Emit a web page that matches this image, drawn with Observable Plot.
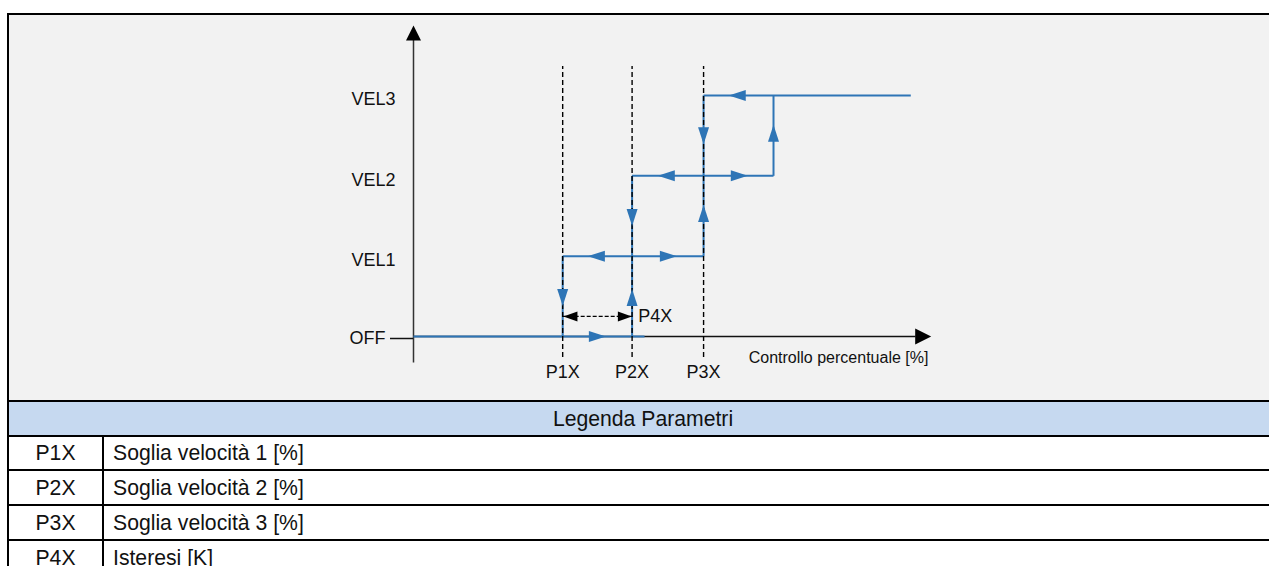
<!DOCTYPE html>
<html>
<head>
<meta charset="utf-8">
<script src="https://cdn.jsdelivr.net/npm/d3@7"></script>
<script src="https://cdn.jsdelivr.net/npm/@observablehq/plot@0.6"></script>
<style>
  html, body { margin: 0; padding: 0; background: #fff; width: 1269px; height: 566px; overflow: hidden;
    font-family: "Liberation Sans", Arial, sans-serif; color: #111; }
  #frame { position: absolute; left: 7px; top: 13px; width: 1290px; height: 390px; box-sizing: border-box;
    border-top: 2px solid #000; border-left: 2px solid #000; background: #f2f2f2; }
  #chart { position: absolute; left: 0; top: 0; }
  .row { position: absolute; left: 7px; width: 1270px; box-sizing: border-box; border-top: 2px solid #000;
    border-left: 2px solid #000; background: #fff; font-size: 21.2px; display: flex; align-items: center; }
  .row.head { background: #c6d9f0; justify-content: center; }
  .row .c1 { width: 93px; text-align: center; box-sizing: border-box; height: 100%; display: flex; align-items: center; justify-content: center; }
  .row .c2 { border-left: 2px solid #000; height: 100%; padding-left: 9px; display: flex; align-items: center; box-sizing: border-box; }
</style>
</head>
<body>
<div id="frame"></div>
<div id="chart"></div>
<div id="table"></div>
<script>
// ---- data ----
const levelValues = [0, 1, 2, 3];
const levelNames = ["OFF", "VEL1", "VEL2", "VEL3"];
const thresholdValues = [28.8, 42.2, 56.0];
const thresholdNames = ["P1X", "P2X", "P3X"];
const axisTitle = ["Controllo percentuale [%]"];
const hysteresisName = ["P4X"];
// blue hysteresis path segments (x in %, y in speed level)
const segX1 = [0, 28.8, 42.2, 28.8, 56.0, 42.2, 69.5, 56.0];
const segY1 = [0, 1, 0, 1, 1, 2, 2, 3];
const segX2 = [44.6, 28.8, 42.2, 56.0, 56.0, 69.5, 69.5, 96.0];
const segY2 = [0, 0, 2, 1, 3, 2, 3, 3];
// direction arrows on the path
const arrowX = [35.5, 28.8, 42.2, 35.3, 49.2, 56.0, 42.2, 48.8, 62.9, 69.5, 56.0, 62.5];
const arrowY = [0, 0.485, 0.485, 1, 1, 1.53, 1.48, 2, 2, 2.53, 2.50, 3];
const arrowAngle = [90, 180, 0, -90, 90, 0, 180, -90, 90, 0, 180, -90];
// P4X hysteresis span between P1X and P2X
const hystX = [28.8, 42.2];
const hystY = [0.25];
const hystHeadX = [30.3, 40.8];
const hystHeadAngle = [-90, 90];
const legendCodes = ["P1X", "P2X", "P3X", "P4X"];
const legendTexts = ["Soglia velocità 1 [%]", "Soglia velocità 2 [%]", "Soglia velocità 3 [%]", "Isteresi [K]"];
const legendTitle = "Legenda Parametri";

// ---- helpers ----
function tri(len, wid) {
  return { draw(ctx) { ctx.moveTo(0, -len / 2); ctx.lineTo(wid / 2, len / 2); ctx.lineTo(-wid / 2, len / 2); ctx.closePath(); } };
}
const blue = "#2e75b6";
const segs = segX1.map((d, i) => ({ x1: d, y1: segY1[i], x2: segX2[i], y2: segY2[i] }));
const arrows = arrowX.map((d, i) => ({ x: d, y: arrowY[i], a: arrowAngle[i] }));
const heads = hystHeadX.map((d, i) => ({ x: d, y: hystY[0], a: hystHeadAngle[i] }));
const levelLabel = d => levelNames[levelValues.indexOf(d)];

const plot = Plot.plot({
  width: 1269, height: 401,
  marginLeft: 413, marginRight: 338, marginTop: 95, marginBottom: 65,
  style: { background: "transparent", fontFamily: "'Liberation Sans', Arial, sans-serif", color: "#111" },
  x: { domain: [0, 100] },
  y: { domain: [0, 3] },
  marks: [
    // axes lines
    Plot.ruleY([0], { x1: 0, x2: 97, stroke: "#111", strokeWidth: 1.5 }),
    Plot.ruleX([0], { y1: -0.33, y2: 3.7, stroke: "#333", strokeWidth: 1.5 }),
    Plot.dot([{ x: 0, y: 3.778 }], { x: "x", y: "y", symbol: tri(15, 15), fill: "#000", stroke: null }),
    Plot.dot([{ x: 98.4, y: 0 }], { x: "x", y: "y", symbol: tri(16, 16), fill: "#000", stroke: null, rotate: 90 }),
    // OFF tick & labels
    Plot.axisY([0], { tickSize: 23, tickPadding: 5, tickFormat: levelLabel, fontSize: 18, strokeWidth: 1.5, dy: 2, label: null }),
    Plot.axisY(levelValues.slice(1), { tickSize: 0, tickPadding: 18, tickFormat: levelLabel, fontSize: 18, dy: 4, label: null }),
    Plot.axisX(thresholdValues, { anchor: "bottom", tickSize: 0, tickPadding: 29, tickFormat: d => thresholdNames[thresholdValues.indexOf(d)], fontSize: 18, label: null }),
    // hysteresis path
    Plot.link(segs, { x1: "x1", y1: "y1", x2: "x2", y2: "y2", stroke: blue, strokeWidth: 2 }),
    // thresholds dashed
    Plot.ruleX(thresholdValues, { y1: -0.26, y2: 3.36, stroke: "#000", strokeWidth: 1.4, strokeDasharray: "5,3" }),
    Plot.dot(arrows, { x: "x", y: "y", rotate: "a", symbol: tri(17, 11), fill: blue, stroke: null }),
    // P4X span
    Plot.link([{ x1: hystX[0], x2: hystX[1], y: hystY[0] }], { x1: "x1", x2: "x2", y1: "y", y2: "y", stroke: "#000", strokeWidth: 1.4, strokeDasharray: "4,2" }),
    Plot.dot(heads, { x: "x", y: "y", rotate: "a", symbol: tri(14, 10), fill: "#000", stroke: null }),
    Plot.text(hysteresisName, { x: 43.4, y: hystY[0], text: d => d, textAnchor: "start", fontSize: 18, fill: "#111" }),
    Plot.text(axisTitle, { x: 99.4, y: -0.27, text: d => d, textAnchor: "end", fontSize: 16, fill: "#111" })
  ]
});
document.getElementById("chart").appendChild(plot);

// ---- legend table ----
const rowTops = [400, 435, 469, 504, 539, 574];
const table = document.getElementById("table");
const head = document.createElement("div");
head.className = "row head";
head.style.top = rowTops[0] + "px";
head.style.height = (rowTops[1] - rowTops[0]) + "px";
head.textContent = legendTitle;
table.appendChild(head);
legendCodes.forEach((c, i) => {
  const r = document.createElement("div");
  r.className = "row";
  r.style.top = rowTops[i + 1] + "px";
  r.style.height = (rowTops[i + 2] - rowTops[i + 1]) + "px";
  const c1 = document.createElement("div"); c1.className = "c1"; c1.textContent = c;
  const c2 = document.createElement("div"); c2.className = "c2"; c2.textContent = legendTexts[i];
  r.appendChild(c1); r.appendChild(c2);
  table.appendChild(r);
});
</script>
</body>
</html>
